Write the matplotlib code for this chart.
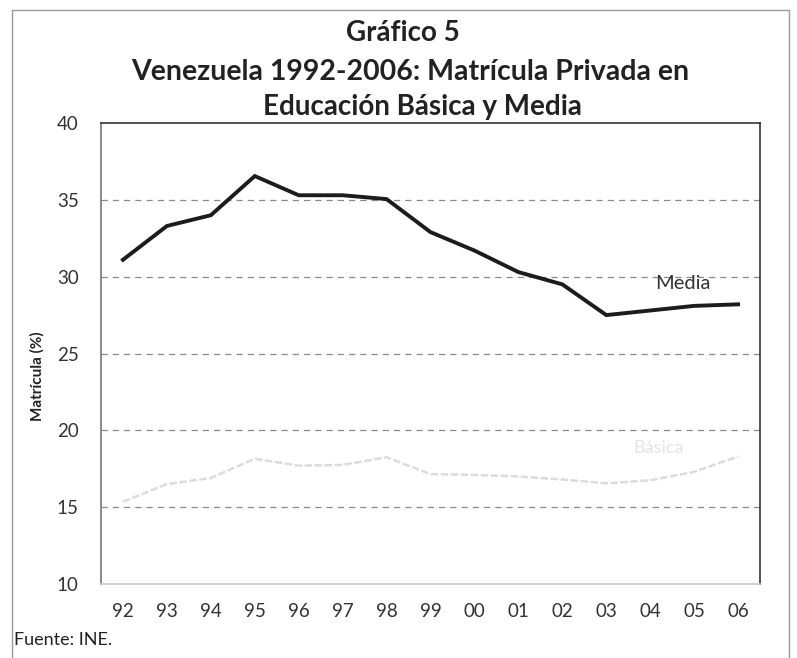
import matplotlib.pyplot as plt
import matplotlib.patches as mpatches

# Datos
years = ["92", "93", "94", "95", "96", "97", "98", "99", "00", "01", "02", "03", "04", "05", "06"]
media = [31.1, 33.3, 34.0, 36.55, 35.3, 35.3, 35.05, 32.9, 31.7, 30.3, 29.5, 27.5, 27.8, 28.1, 28.2]
basica = [15.35, 16.5, 16.9, 18.15, 17.7, 17.75, 18.25, 17.15, 17.1, 17.0, 16.8, 16.55, 16.75, 17.3, 18.3]

plt.rcParams['font.family'] = ['Lato', 'DejaVu Sans']

fig = plt.figure(figsize=(7.97, 6.58), dpi=100)
ax = fig.add_axes([0.1267, 0.1125, 0.827, 0.7005])

x = range(len(years))
ax.plot(x, media, color='#1c1c1c', linewidth=2.8, solid_joinstyle='miter')
ax.plot(x, basica, color='#dcdcdc', linewidth=1.8, linestyle=(0, (3, 1)))

ax.set_xlim(-0.5, len(years) - 0.5)
ax.set_ylim(10, 40)
ax.set_yticks(range(10, 41, 5))
ax.set_xticks(list(x))
ax.set_xticklabels(years)
ax.tick_params(length=0, labelsize=13.5, colors='#333333')
ax.tick_params(axis='x', pad=14)
ax.tick_params(axis='y', pad=16)

for y in range(15, 40, 5):
    ax.axhline(y, color='#8a8a8a', linewidth=0.9, linestyle=(0, (5, 4)), zorder=0)

ax.spines['top'].set_color('#333333')
ax.spines['right'].set_color('#333333')
ax.spines['left'].set_color('#777777')
ax.spines['bottom'].set_color('#c8c8c8')
for s in ax.spines.values():
    s.set_linewidth(1.2)

ax.set_ylabel("Matrícula (%)", fontsize=11, fontweight='bold', color='#222222', labelpad=5)
ax.yaxis.set_label_coords(-0.085, 0.45)

ax.text(12.75, 29.55, "Media", fontsize=14.5, color='#333333', ha='center', va='center')
ax.text(12.2, 18.85, "Básica", fontsize=13, color='#e4e4e4', ha='center', va='center')

fig.text(0.505, 0.950, "Gráfico 5", fontsize=20, fontweight='bold', ha='center', va='center', color='#222222')
fig.text(0.515, 0.891, "Venezuela 1992-2006: Matrícula Privada en", fontsize=20.5, fontweight='bold',
         ha='center', va='center', color='#222222')
fig.text(0.53, 0.838, "Educación Básica y Media", fontsize=20, fontweight='bold',
         ha='center', va='center', color='#222222')
fig.text(0.018, 0.027, "Fuente: INE.", fontsize=13, ha='left', va='center', color='#222222')

# Marco exterior
fig.patches.append(mpatches.Rectangle((0.015, -0.05), 0.975, 1.035, transform=fig.transFigure,
                                      fill=False, edgecolor='#999999', linewidth=1))

fig.savefig("out.png", dpi=100)
